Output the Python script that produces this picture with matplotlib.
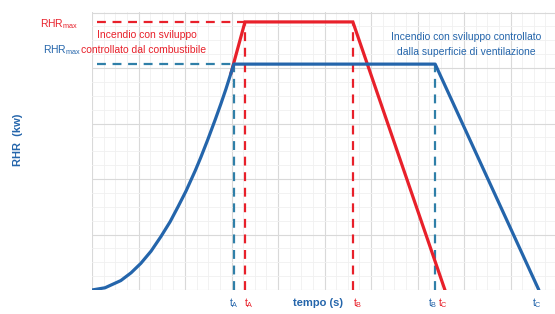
import matplotlib
matplotlib.use("Agg")
import matplotlib.pyplot as plt
from matplotlib.ticker import MultipleLocator

plt.rcParams['font.family'] = ['Liberation Sans', 'DejaVu Sans']

RED = "#e8202a"
BLUE = "#2465ab"
BLUE_DASH = "#2f7fa8"

# growth curve (time, RHR), shared by both fires
growth_t = [0.0, 0.28, 0.62, 0.84, 1.05, 1.27, 1.48, 1.68, 1.85, 2.02,
            2.22, 2.34, 2.49, 2.65, 2.77, 2.88, 2.99, 3.05]
growth_q = [0.0, 0.04, 0.17, 0.31, 0.48, 0.70, 0.96, 1.23, 1.50, 1.78,
            2.15, 2.39, 2.71, 3.07, 3.35, 3.62, 3.91, 4.07]

# ventilation controlled fire (blue)
blue_t = growth_t + [7.38, 9.61]
blue_q = growth_q + [4.07, 0.0]

# fuel controlled fire (red)
red_t = [2.99, 3.29, 5.61, 7.59]
red_q = [3.91, 4.83, 4.83, 0.0]

# characteristic times
blue_tA, blue_tB, blue_tC = 3.05, 7.38, 9.61
red_tA, red_tB, red_tC = 3.29, 5.61, 7.59
blue_max, red_max = 4.07, 4.83

fig = plt.figure(figsize=(5.55, 3.14), dpi=100)
ax = fig.add_axes([92 / 555, 24 / 314, 463 / 555, 278 / 314])
ax.set_xlim(0, 463 / 46.5)
ax.set_ylim(0, 278 / 55.5)

ax.xaxis.set_major_locator(MultipleLocator(1))
ax.xaxis.set_minor_locator(MultipleLocator(0.25))
ax.yaxis.set_major_locator(MultipleLocator(1))
ax.yaxis.set_minor_locator(MultipleLocator(0.25))
ax.grid(which="major", color="#d9d9d9", lw=0.8)
ax.grid(which="minor", color="#f0f0f0", lw=0.6)
ax.set_axisbelow(True)
ax.tick_params(which="both", length=0, labelbottom=False, labelleft=False)
for s in ax.spines.values():
    s.set_visible(False)

dash = dict(lw=1.6, dashes=(4, 3))
# horizontal dashed levels
ax.plot([0.1, red_tA], [red_max, red_max], color=RED, **dash)
ax.plot([0.1, blue_tA], [blue_max, blue_max], color=BLUE_DASH, **dash)
# vertical dashed times
ax.plot([blue_tA, blue_tA], [0, blue_max], color=BLUE_DASH, **dash)
ax.plot([red_tA, red_tA], [0, red_max], color=RED, **dash)
ax.plot([red_tB, red_tB], [0, red_max], color=RED, **dash)
ax.plot([blue_tB, blue_tB], [0, blue_max], color=BLUE_DASH, **dash)

ax.plot(red_t, red_q, color=RED, lw=2.3, solid_joinstyle="miter", zorder=3)
ax.plot(blue_t, blue_q, color=BLUE, lw=2.3, solid_joinstyle="round",
        solid_capstyle="round", zorder=4)

fs = 7.5
# labels on the left
ax.text(-0.3, 4.79, r"RHR$_\mathregular{max}$", color=RED, fontsize=fs,
        ha="right", va="center", clip_on=False)
ax.text(-0.24, 4.32, r"RHR$_\mathregular{max}$", color=BLUE, fontsize=fs,
        ha="right", va="center", clip_on=False)
ax.text(0.11, 4.59, "Incendio con sviluppo", color=RED, fontsize=fs,
        ha="left", va="center")
ax.text(-0.23, 4.32, "controllato dal combustibile", color=RED, fontsize=fs,
        ha="left", va="center", clip_on=False)
ax.text(8.04, 4.56, "Incendio con sviluppo controllato", color=BLUE, fontsize=fs,
        ha="center", va="center")
ax.text(8.04, 4.29, "dalla superficie di ventilazione", color=BLUE, fontsize=fs,
        ha="center", va="center")

# time labels under the axis
ty = -0.23
for x, lab, c in [(blue_tA, "A", BLUE), (red_tA + 0.08, "A", RED),
                  (red_tB + 0.1, "B", RED), (blue_tB - 0.05, "B", BLUE),
                  (red_tC - 0.05, "C", RED), (blue_tC - 0.05, "C", BLUE)]:
    ax.text(x, ty, r"t$_\mathregular{%s}$" % lab, color=c, fontsize=fs,
            ha="center", va="center", clip_on=False)
ax.text(4.86, ty, "tempo (s)", color=BLUE, fontsize=8, fontweight="bold",
        ha="center", va="center", clip_on=False)

fig.text(18 / 555, 1 - 140 / 314, "RHR  (kw)", color=BLUE, fontsize=8,
         fontweight="bold", rotation=90, ha="center", va="center")

fig.savefig("out.png", dpi=100)
